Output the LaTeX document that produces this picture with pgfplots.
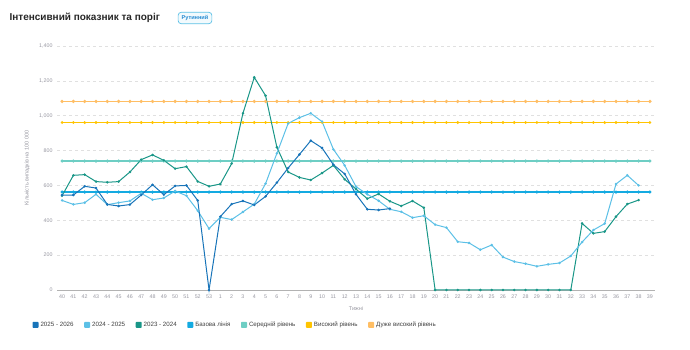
\documentclass[border=0pt]{standalone}
\usepackage{pgfplots}
\pgfplotsset{compat=1.18}
\usepackage{fontspec}
\setmainfont{Liberation Sans}
\definecolor{cA}{RGB}{24,116,185}
\definecolor{cB}{RGB}{92,192,230}
\definecolor{cC}{RGB}{25,150,135}
\definecolor{cBase}{RGB}{20,170,225}
\definecolor{cMid}{RGB}{110,206,196}
\definecolor{cHigh}{RGB}{255,196,0}
\definecolor{cVHigh}{RGB}{255,190,100}
\definecolor{tickgray}{RGB}{150,150,160}
\definecolor{badge}{RGB}{40,140,210}
\pgfplotstableread{
x y
0 545
1 545
2 595
3 585
4 491
5 482
6 490
7 545
8 604
9 547
10 597
11 600
12 514
13 0
14 421
15 493
16 511
17 488
18 537
19 616
20 700
21 778
22 857
23 815
24 719
25 666
26 549
27 463
28 459
29 467
}\tA
\pgfplotstableread{
x y
0 514
1 491
2 501
3 549
4 490
5 501
6 511
7 555
8 518
9 528
10 568
11 541
12 455
13 352
14 417
15 404
16 448
17 493
18 610
19 784
20 956
21 989
22 1014
23 966
24 807
25 715
26 593
27 549
28 512
29 463
30 449
31 415
32 426
33 375
34 358
35 277
36 270
37 231
38 258
39 189
40 163
41 151
42 136
43 147
44 155
45 195
46 275
47 344
48 381
49 608
50 658
51 600
}\tB
\pgfplotstableread{
x y
0 541
1 658
2 662
3 622
4 618
5 622
6 677
7 748
8 775
9 744
10 696
11 708
12 623
13 595
14 608
15 725
16 1014
17 1220
18 1115
19 819
20 677
21 646
22 631
23 671
24 715
25 635
26 579
27 524
28 551
29 509
30 482
31 511
32 472
33 0
34 0
35 0
36 0
37 0
38 0
39 0
40 0
41 0
42 0
43 0
44 0
45 0
46 382
47 325
48 335
49 421
50 493
51 516
}\tC
\pgfplotstableread{
x vh h m b
0 1082 961 740 562
1 1082 961 740 562
2 1082 961 740 562
3 1082 961 740 562
4 1082 961 740 562
5 1082 961 740 562
6 1082 961 740 562
7 1082 961 740 562
8 1082 961 740 562
9 1082 961 740 562
10 1082 961 740 562
11 1082 961 740 562
12 1082 961 740 562
13 1082 961 740 562
14 1082 961 740 562
15 1082 961 740 562
16 1082 961 740 562
17 1082 961 740 562
18 1082 961 740 562
19 1082 961 740 562
20 1082 961 740 562
21 1082 961 740 562
22 1082 961 740 562
23 1082 961 740 562
24 1082 961 740 562
25 1082 961 740 562
26 1082 961 740 562
27 1082 961 740 562
28 1082 961 740 562
29 1082 961 740 562
30 1082 961 740 562
31 1082 961 740 562
32 1082 961 740 562
33 1082 961 740 562
34 1082 961 740 562
35 1082 961 740 562
36 1082 961 740 562
37 1082 961 740 562
38 1082 961 740 562
39 1082 961 740 562
40 1082 961 740 562
41 1082 961 740 562
42 1082 961 740 562
43 1082 961 740 562
44 1082 961 740 562
45 1082 961 740 562
46 1082 961 740 562
47 1082 961 740 562
48 1082 961 740 562
49 1082 961 740 562
50 1082 961 740 562
51 1082 961 740 562
52 1082 961 740 562
}\tT
\begin{document}
\begin{tikzpicture}[x=1pt,y=1pt]
\path[use as bounding box] (0,0) rectangle (690,350);
\node[anchor=west,font=\fontsize{10}{12}\selectfont\bfseries,text=black!85] at (6,332) {Інтенсивний показник та поріг};
\node[draw=cB,fill=cB!8,rounded corners=3pt,line width=0.7pt,inner xsep=3.5pt,inner ysep=3pt,font=\fontsize{5.6}{6}\selectfont\bfseries,text=badge] at (195,332) {Рутинний};
\begin{axis}[
  at={(57pt,60pt)}, anchor=south west,
  scale only axis, width=598pt, height=244pt,
  xmin=-0.45, xmax=52.45, ymin=0, ymax=1400,
  axis y line*=left,
  y axis line style={draw=none},
  axis x line*=bottom,
  x axis line style={draw=black!30, line width=0.8pt},
  xtick={0,...,52},
  xticklabels={40,41,42,43,44,45,46,47,48,49,50,51,52,53,1,2,3,4,5,6,7,8,9,10,11,12,13,14,15,16,17,18,19,20,21,22,23,24,25,26,27,28,29,30,31,32,33,34,35,36,37,38,39},
  ytick={0,200,...,1400},
  /pgf/number format/1000 sep={,},
  /pgf/number format/fixed,
  /pgf/number format/assume math mode=true,
  major tick length=0pt,
  tick label style={font=\fontsize{5.3}{6}\selectfont, text=tickgray},
  xticklabel style={yshift=-1pt},
  yticklabel style={xshift=-1pt},
  ymajorgrids,
  grid style={dashed, draw=black!12, line width=0.5pt},
  ylabel={Кількість випадків на 100 000},
  ylabel style={font=\fontsize{5.5}{6}\selectfont, text=tickgray, at={(axis description cs:-0.05,0.5)}, anchor=center},
  xlabel={Тижні},
  xlabel style={font=\fontsize{5.5}{6}\selectfont, text=tickgray, at={(axis description cs:0.5,-0.074)}, anchor=center},
  mark size=0.7pt,
  clip=false,
]
\addplot[cVHigh, line width=1.6pt, mark=*, mark options={fill=cVHigh!85!black, draw=none}] table[y=vh] {\tT};
\addplot[cHigh, line width=1.2pt, mark=*, mark options={fill=cHigh!85!black, draw=none}] table[y=h] {\tT};
\addplot[cMid, line width=1.5pt, mark=*, mark options={fill=cMid!85!black, draw=none}] table[y=m] {\tT};
\addplot[cBase, line width=1.5pt, mark=*, mark options={fill=cBase!85!black, draw=none}] table[y=b] {\tT};
\addplot[cC, line width=1pt, mark=*, mark options={fill=cC}] table {\tC};
\addplot[cB, line width=1pt, mark=*, mark options={fill=cB}] table {\tB};
\addplot[cA, line width=1pt, mark=*, mark options={fill=cA}] table {\tA};
\end{axis}
\begin{axis}[
  at={(57pt,60pt)}, anchor=south west,
  scale only axis, width=598pt, height=244pt,
  xmin=0, xmax=1, ymin=0, ymax=1, hide axis,
  legend columns=-1,
  legend style={at={(axis description cs:0.298,-0.143)}, anchor=center, draw=none, fill=none,
    font=\fontsize{6.2}{7}\selectfont, text=black!75, inner sep=0pt,
    /tikz/every even column/.append style={column sep=8.5pt}},
  legend image code/.code={\fill[#1, draw=none, rounded corners=0.8pt] (0pt,-3pt) rectangle (6pt,3pt);},
]
\addlegendimage{fill=cA}\addlegendentry{2025 - 2026}
\addlegendimage{fill=cB}\addlegendentry{2024 - 2025}
\addlegendimage{fill=cC}\addlegendentry{2023 - 2024}
\addlegendimage{fill=cBase}\addlegendentry{Базова лінія}
\addlegendimage{fill=cMid}\addlegendentry{Середній рівень}
\addlegendimage{fill=cHigh}\addlegendentry{Високий рівень}
\addlegendimage{fill=cVHigh}\addlegendentry{Дуже високий рівень}
\end{axis}
\end{tikzpicture}
\end{document}
